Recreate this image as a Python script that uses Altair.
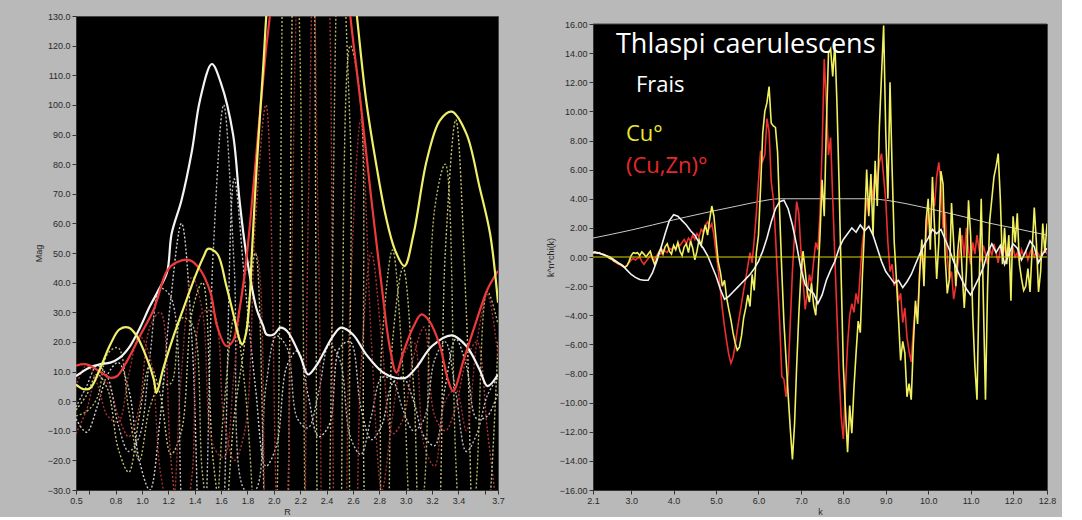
import altair as alt
import pandas as pd
import numpy as np

# ---------------- Left panel: FT magnitude vs R ----------------
white_R = [0.5,0.6,0.68,0.76,0.83,0.91,0.985,1.06,1.12,1.19,1.225,1.30,1.38,1.44,1.53,1.60,1.69,1.74,1.79,1.87,1.92,1.945,2.0,2.05,2.1,2.2,2.26,2.32,2.45,2.51,2.6,2.7,2.83,2.92,3.0,3.08,3.2,3.35,3.46,3.56,3.62,3.7]
white_M = [8.4,11.3,12.4,13,14.6,18.6,24.8,32,37,43.4,56.5,67.8,84.7,101.6,113.8,107.2,90.3,67.8,50,31,25.3,22.5,22.5,24.8,23.7,15.2,9,11.8,22,24.8,22.5,15.8,9.6,7.9,7.9,11.3,18.6,22.2,18.6,10.7,5.1,9]

red_R = [0.5,0.58,0.68,0.76,0.81,0.88,0.985,1.09,1.19,1.26,1.36,1.44,1.52,1.57,1.64,1.69,1.74,1.78,1.82,1.87,1.94,1.97,2.1,2.26,2.42,2.58,2.66,2.74,2.82,2.88,2.93,2.98,3.06,3.12,3.18,3.26,3.32,3.36,3.44,3.54,3.62,3.7]
red_M = [12,12.4,10,7.9,8.4,13,22,31,44,46.8,47.6,44.5,36.6,25.3,18.6,20.3,31,43.4,60,84.7,118.5,130,200,240,200,130,100,68,38,18,9.6,16.3,25.3,29.3,27,18.6,7.3,3.4,14,27.6,37.7,44]

yel_R = [0.5,0.56,0.61,0.68,0.76,0.83,0.9,0.96,1.04,1.09,1.11,1.16,1.24,1.34,1.41,1.47,1.50,1.57,1.64,1.69,1.74,1.76,1.79,1.82,1.83,1.87,1.92,1.95,2.1,2.26,2.42,2.63,2.70,2.78,2.85,2.92,2.99,3.06,3.16,3.26,3.35,3.46,3.56,3.64,3.7]
yel_M = [5.6,4,4.5,10.7,19.1,24.2,24.8,22,14.1,7.3,2.8,10.7,22,34.4,42.8,49,51.4,49.8,38.9,29.9,20.8,19.1,23.1,36.6,46.8,79,113,135,220,260,220,130,101.6,79,62.2,50.9,45.6,56.5,81.3,94.8,97.7,90.3,72.3,56.5,33.2]

# real / imaginary parts (dotted), sampled every 0.08 in R
dot_R = [0.50,0.58,0.66,0.74,0.82,0.90,0.98,1.06,1.14,1.22,1.30,1.38,1.46,1.54,1.62,1.70,1.78,1.86,1.94,2.02,2.10,
         2.18,2.26,2.34,2.42,2.50,2.58,2.66,2.74,2.82,2.90,2.98,3.06,3.14,3.22,3.30,3.38,3.46,3.54,3.62,3.70]
white_re = [-6,-10.5,-2,9,13,4,-20,-30,-5,35,60,20,-80,-110,-40,75,40,5,-22,-15,12,17,2,-12,-8,18,20,-2,-13,-8,6,8,0,-12,-15,5,21,12,-6,-5,3]
white_im = [-2,5,12,8,-8,-17,-12,15,38,35,-35,-85,-60,50,100,45,-30,-30,5,22,18,-6,-9,3,19,14,-12,-18,-5,8,7,-3,-10,-6,14,20,3,-17,-11,2,8]
red_re = [-11,-3,8,6,-5,-12,-2,25,30,-20,-46,-25,30,30,-5,-20,-10,60,100,-40,-195,-170,60,225,140,-100,-120,10,50,20,-11,-6,15,25,-5,-10,-2,14,20,-10,-40]
red_im = [5,12,6,-5,-7,9,22,15,-24,-40,10,42,30,-15,-19,10,42,50,-65,-155,-45,150,232,50,-140,-120,35,95,20,-30,-5,15,20,-15,-22,0,4,-10,20,36,15]
yel_re = [-3,2,9,4,-16,-24,-5,12,2,-18,-10,30,40,-20,-42,-5,20,50,-60,-175,-60,200,230,-80,-215,-80,120,100,-60,-65,20,45,5,-70,-60,50,95,30,-70,-45,20]
yel_im = [-5,-3.5,1,16,18,-3,-20,-2,5.5,6,28,26,-25,-47,-3,28,5,-50,-115,-40,210,150,-120,-237,-40,162,90,-70,-70,20,51,10,-56,-30,65,80,-20,-85,-25,37,26]

R_ticks = [0.5,0.6,0.8,1.0,1.2,1.4,1.6,1.8,2.0,2.2,2.4,2.6,2.8,3.0,3.2,3.4,3.6,3.7]
Mag_ticks = [-30,-20,-10,0,10,20,30,40,50,60,70,80,90,100,110,120,130]

# ---------------- Right panel: k^n chi(k) vs k ----------------
win_k = [2.1,3.0,4.0,4.3,5.0,5.5,6.0,6.5,7.0,8.0,8.6,9.0,9.5,10.2,11.0,11.4,12.0,12.8]
win_v = [1.3,1.85,2.55,2.75,3.2,3.5,3.8,4.0,4.0,4.0,4.0,3.9,3.65,3.2,2.65,2.35,2.0,1.5]

# Cu° (yellow), sampled every 0.05 from k = 2.10 to 12.80
cu_chi = [
 0.3,0.35,0.25,0.3,0.2,0.15,0.1,0.0,-0.1,-0.15,-0.3,-0.35,-0.45,-0.5,-0.6,-0.7,-0.6,-0.3,0.1,0.3,
 0.25,0.3,0.1,0.35,0.2,0.0,0.2,0.4,-0.1,-0.5,-0.2,0.3,0.6,0.2,0.7,0.9,0.4,0.2,0.8,0.5,
 1.0,0.4,0.1,0.7,0.9,0.3,1.1,0.6,-0.2,0.4,1.2,0.8,1.6,2.2,1.5,2.6,3.5,2.8,1.2,-0.3,
 -1.0,-2.0,-1.6,-2.8,-3.6,-4.3,-5.2,-5.9,-6.4,-6.2,-5.4,-4.2,-3.5,-2.6,-3.4,-1.2,-2.3,0.3,1.5,4.8,
 8.5,10.0,10.6,11.7,9.2,9.0,8.9,7.2,3.0,-1.0,-4.5,-7.0,-9.5,-11.8,-13.9,-11.5,-7.5,-4.0,-1.2,0.4,
 -0.9,-2.4,-3.1,-1.8,-3.3,-4.0,-1.5,1.5,5.3,2.8,9.0,14.0,14.3,12.4,14.7,10.5,5.0,-1.5,-7.5,-10.5,
 -13.4,-10.2,-12.1,-9.0,-6.6,-4.4,-5.2,-1.2,2.0,6.0,2.8,5.7,1.5,6.6,3.5,9.0,12.5,15.9,8.5,4.0,
 12.0,6.0,1.0,-1.5,-4.2,-7.1,-5.8,-6.6,-9.6,-8.7,-9.8,-6.0,-3.0,-4.6,-1.0,1.2,-2.0,2.5,4.0,0.5,
 5.5,2.0,-1.5,1.0,5.9,5.0,0.0,-2.5,-1.5,3.7,1.0,-2.0,0.5,2.0,-1.0,-3.5,-1.0,3.9,1.5,-4.0,
 -7.5,-9.8,-2.0,4.0,-3.0,-9.8,-2.0,2.5,4.0,5.5,6.2,7.1,4.0,-0.5,2.0,-0.5,1.5,-3.0,2.8,1.0,
 3.0,-0.5,-1.5,-2.3,-2.0,-0.8,-2.4,0.5,3.4,1.0,-2.4,-1.0,2.3,0.3,2.3]

# (Cu,Zn)° (red), same sampling
cuzn_chi = [
 0.35,0.3,0.3,0.25,0.2,0.2,0.1,0.0,-0.1,-0.2,-0.3,-0.4,-0.5,-0.55,-0.65,-0.7,-0.6,-0.4,-0.2,-0.1,
 -0.2,-0.1,0.0,-0.3,-0.5,-0.3,-0.1,0.1,0.0,-0.2,0.1,0.3,0.2,0.5,0.4,0.3,0.6,0.5,0.7,0.6,
 0.9,0.8,1.0,1.2,0.9,1.3,1.1,1.5,1.2,1.6,1.4,1.9,1.7,2.2,2.4,2.0,2.3,1.5,0.3,-0.8,
 -2.2,-3.6,-4.8,-5.8,-6.7,-7.3,-6.9,-6.1,-5.0,-4.1,-3.2,-2.3,-1.5,-0.6,0.3,-0.4,1.2,3.0,5.2,7.3,
 6.6,7.0,9.5,8.6,5.2,4.0,1.5,-1.5,-4.5,-8.2,-8.4,-9.6,-8.0,-4.5,-1.0,1.5,3.8,3.0,0.5,-1.5,
 -3.6,-2.5,-1.2,-1.8,-0.3,1.0,0.5,3.0,7.5,13.6,10.5,7.0,8.2,4.0,0.0,-4.0,-8.0,-11.0,-12.5,-9.0,
 -6.0,-4.0,-3.2,-3.8,-2.5,-3.2,-1.0,1.0,2.0,4.0,3.0,5.0,4.0,6.0,5.0,6.5,7.1,5.5,3.9,1.0,
 -1.0,-0.5,-2.0,-1.5,-3.0,-2.5,-4.5,-3.5,-5.5,-6.5,-7.2,-5.0,-3.3,-4.0,-1.0,0.5,-0.5,1.5,3.0,2.0,
 4.5,3.5,5.5,6.5,5.0,2.0,3.0,0.0,-1.5,-1.0,-2.9,-2.0,-0.5,0.5,1.5,0.0,2.0,0.5,-0.5,1.0,
 0.2,1.5,0.5,-0.3,0.8,0.2,-0.5,0.6,0.1,0.9,0.3,-0.4,0.5,0.2,0.7,-0.2,0.4,0.1,0.6,0.0,
 0.3,-0.3,0.5,0.1,0.4,-0.2,0.3,0.6,0.0,0.4,0.2,-0.1,0.3,0.5,0.2]

# third (white) spectrum, sampled every 0.1 from k = 2.1 to 12.8
white_chi = [
 0.3,0.3,0.2,0.1,0.0,-0.2,-0.4,-0.6,-0.9,-1.2,
 -1.4,-1.55,-1.6,-1.6,-1.1,-0.3,0.6,1.6,2.5,2.9,
 2.8,2.5,2.2,1.8,1.5,1.0,0.6,0.1,-0.6,-1.3,
 -2.2,-2.9,-2.7,-2.4,-2.1,-1.8,-1.5,-1.2,-0.8,-0.3,
 0.4,1.3,2.4,3.3,3.8,3.9,3.3,2.2,0.8,-0.8,
 -1.9,-2.3,-2.5,-3.2,-2.6,-1.6,-0.9,-0.3,0.6,1.2,
 1.6,2.0,1.7,2.2,1.8,2.1,1.5,0.6,-0.3,-1.0,
 -1.4,-1.8,-1.6,-2.1,-1.7,-1.2,-0.5,0.2,0.8,1.3,
 1.9,1.6,1.9,1.2,0.5,-0.3,-1.0,-1.6,-2.2,-2.6,
 -2.0,-1.4,-0.7,0.3,0.9,0.3,0.8,-0.5,0.2,0.9,
 0.6,-0.2,0.4,1.1,0.7,-0.4,0.2,0.6]

k_ticks = [2.1,3,4,5,6,7,8,9,10,11,12,12.8]
chi_ticks = [-16,-14,-12,-10,-8,-6,-4,-2,0,2,4,6,8,10,12,14,16]

k_fine = np.round(2.1 + 0.05 * np.arange(len(cu_chi)), 2)
k_coarse = np.round(2.1 + 0.1 * np.arange(len(white_chi)), 2)

# ---------------- styling ----------------
BG = "#b9b9b9"
FONT = "Liberation Sans"
LBL = "#2a2a2a"
H = 474          # both panels share the row height
TOPGAP = 8       # right plot frame starts a little lower than the left one

def df(x, y):
    return pd.DataFrame({"x": list(x), "y": list(y)})

xL = alt.X("x:Q", title="R",
           scale=alt.Scale(domain=[0.5, 3.7], nice=False, zero=False),
           axis=alt.Axis(values=R_ticks, grid=False, tickSize=4, labelFontSize=9, titleFontSize=9,
                         labelExpr="(datum.value > 0.55 && datum.value < 0.65) || (datum.value > 3.55 && datum.value < 3.65) ? '' : format(datum.value, '.1f')",
                         labelFlush=False, titlePadding=2))
yL = alt.Y("y:Q", title="Mag",
           scale=alt.Scale(domain=[-30, 130], nice=False, zero=False),
           axis=alt.Axis(values=Mag_ticks, format=".1f", grid=False, tickSize=4, labelFontSize=9,
                         titleFontSize=9, titlePadding=4))

left_layers = []
dotted = [(white_re, "#cfcfcf"), (red_re, "#b0383c"), (yel_re, "#c4c47a"),
          (white_im, "#bdbdbd"), (red_im, "#9c3035"), (yel_im, "#b5b56a")]
for vals, col in dotted:
    left_layers.append(
        alt.Chart(df(dot_R, vals)).mark_line(color=col, strokeWidth=1.4, strokeDash=[2, 2],
                                             interpolate="catmull-rom", clip=True)
        .encode(x=xL, y=yL))
solids = [(white_R, white_M, "#f4f4f4"), (red_R, red_M, "#ee3a3a"), (yel_R, yel_M, "#efef6a")]
for xs, ys, col in solids:
    left_layers.append(
        alt.Chart(df(xs, ys)).mark_line(color=col, strokeWidth=2.2, interpolate="catmull-rom", clip=True)
        .encode(x=xL, y=yL))

left = alt.layer(*left_layers).properties(width=422, height=H)

xR = alt.X("x:Q", title="k",
           scale=alt.Scale(domain=[2.1, 12.8], nice=False, zero=False),
           axis=alt.Axis(values=k_ticks, format=".1f", grid=False, tickSize=4, labelFontSize=9,
                         titleFontSize=9, labelFlush=False, titlePadding=2))
yR = alt.Y("y:Q", title="k^n*chi(k)",
           scale=alt.Scale(domain=[-16, 16], nice=False, zero=False, range=[H, TOPGAP]),
           axis=alt.Axis(values=chi_ticks, format=".2f", grid=False, tickSize=4, labelFontSize=9,
                         titleFontSize=9, titlePadding=4))

right_layers = [
    alt.Chart(df(win_k, win_v)).mark_line(color="#c8c8c8", strokeWidth=1, interpolate="monotone", clip=True)
    .encode(x=xR, y=yR),
    alt.Chart(df(k_fine, cuzn_chi)).mark_line(color="#ec3030", strokeWidth=1.6, clip=True).encode(x=xR, y=yR),
    alt.Chart(df(k_fine, cu_chi)).mark_line(color="#f0f060", strokeWidth=1.6, clip=True).encode(x=xR, y=yR),
    alt.Chart(df(k_coarse, white_chi)).mark_line(color="#f2f2f2", strokeWidth=1.6, clip=True).encode(x=xR, y=yR),
    alt.Chart(df([2.1, 12.8], [0, 0])).mark_line(color="#d6d600", strokeWidth=1, clip=True).encode(x=xR, y=yR),
    # grey band above the right plot frame
    alt.Chart(pd.DataFrame({"a": [0]})).mark_rect(color=BG).encode(
        x=alt.value(-1), x2=alt.value(455), y=alt.value(-1), y2=alt.value(TOPGAP)),
    alt.Chart(pd.DataFrame({"a": [0]})).mark_rule(color="#444", strokeWidth=1).encode(
        x=alt.value(0), x2=alt.value(454), y=alt.value(TOPGAP)),
]

labels = [("Thlaspi caerulescens", "#ffffff", 27, 23, 37),
          ("Frais", "#ffffff", 22, 43, 76),
          ("Cu°", "#e9e933", 22, 33, 125),
          ("(Cu,Zn)°", "#e8282a", 22, 33, 157)]
for txt, col, fs, px, py in labels:
    right_layers.append(
        alt.Chart(pd.DataFrame({"t": [txt]})).mark_text(color=col, fontSize=fs, font="Open Sans",
                                                        align="left", baseline="alphabetic")
        .encode(text="t:N", x=alt.value(px), y=alt.value(py)))

right = alt.layer(*right_layers).properties(width=454, height=H)

chart = alt.hconcat(left, right, spacing=40).properties(
    padding={"left": 33, "top": 11, "right": 5, "bottom": 0}
).configure(background=BG, font=FONT).configure_view(
    fill="black", stroke="#444"
).configure_axis(
    labelColor=LBL, titleColor=LBL, tickColor="#333", domainColor="#333", labelFont=FONT, titleFont=FONT,
    titleFontWeight="normal"
)

chart.save("out.html", embed_options={"renderer": "svg", "actions": False})
